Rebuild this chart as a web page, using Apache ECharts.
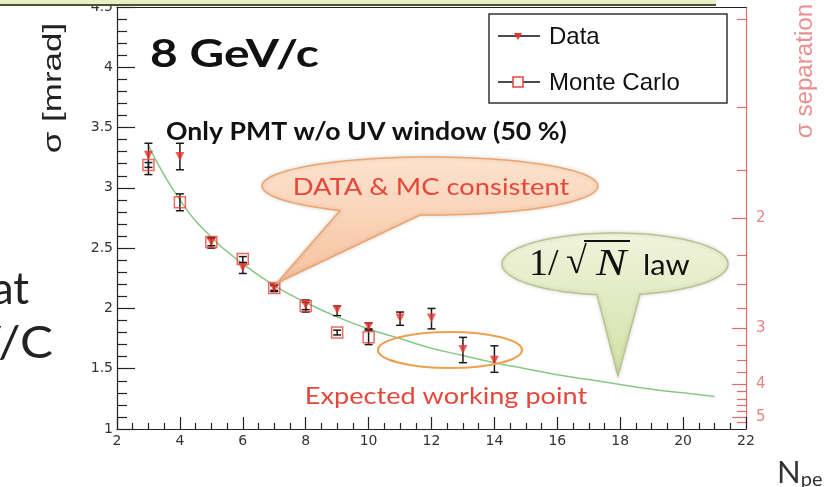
<!DOCTYPE html>
<html>
<head>
<meta charset="utf-8">
<script src="https://cdn.jsdelivr.net/npm/echarts@6/dist/echarts.min.js"></script>
<style>
html, body { margin: 0; padding: 0; background: #fff; }
#chart { width: 826px; height: 487px; }
</style>
</head>
<body>
<div id="chart"></div>
<script>
// measured points, 8 GeV/c, PMT w/o UV window
const dataN = [3, 4, 5, 6, 7, 8, 9, 10, 11, 12, 13, 14];
const dataSigma = [3.27, 3.26, 2.55, 2.34, 2.17, 2.03, 1.99, 1.85, 1.92, 1.92, 1.66, 1.57];
const dataLow = [3.11, 3.15, 2.50, 2.29, 2.14, 1.97, 1.94, 1.83, 1.86, 1.83, 1.55, 1.47];
const dataHigh = [3.37, 3.37, 2.59, 2.38, 2.20, 2.07, 2.02, 1.88, 1.97, 2.00, 1.76, 1.69];

// Monte Carlo
const mcN = [3, 4, 5, 6, 7, 8, 9, 10];
const mcSigma = [3.19, 2.88, 2.55, 2.41, 2.17, 2.02, 1.80, 1.76];
const mcLow = [3.17, 2.81, 2.52, 2.38, 2.15, 1.99, 1.78, 1.70];
const mcHigh = [3.21, 2.95, 2.58, 2.43, 2.19, 2.05, 1.82, 1.82];

// green 1/sqrt(N) curve
const lawN = [3, 4, 5, 6, 7, 8, 9, 10, 11, 12, 13, 14, 15, 16, 17, 18, 19, 20, 21];
const lawSigma = [3.35, 2.90, 2.59, 2.37, 2.19, 2.05, 1.93, 1.83, 1.75, 1.67, 1.61, 1.55, 1.50, 1.45, 1.41, 1.37, 1.33, 1.30, 1.27];

// right axis: sigma separation (sigma = sepScale / n)
const sepScale = 5.5;
const sepMajor = [2, 3, 4, 5];
const sepMinor = [1.25, 1.5, 1.75, 2.25, 2.5, 2.75, 3.25, 3.5, 3.75, 4.2, 4.4, 4.6, 4.8, 5.2];

const RED = '#e8352a';
const PINK = '#e58585';
const AXIS_FONT = 'DejaVu Sans';

function errorBar(params, api) {
  const x = api.value(0);
  const lo = api.coord([x, api.value(1)]);
  const hi = api.coord([x, api.value(2)]);
  const c = 4;
  const style = { stroke: '#1a1a1a', lineWidth: 1.5 };
  return {
    type: 'group',
    children: [
      { type: 'line', shape: { x1: lo[0], y1: lo[1], x2: hi[0], y2: hi[1] }, style },
      { type: 'line', shape: { x1: lo[0] - c, y1: lo[1], x2: lo[0] + c, y2: lo[1] }, style },
      { type: 'line', shape: { x1: hi[0] - c, y1: hi[1], x2: hi[0] + c, y2: hi[1] }, style }
    ]
  };
}

// speech bubble outline: ellipse with a tail leaving the lower edge between xb and xa
function bubble(cx, cy, rx, ry, xa, xb, tip) {
  const ta = Math.acos((xa - cx) / rx);
  const tb = Math.acos((xb - cx) / rx) - 2 * Math.PI;
  const pts = [];
  const steps = 90;
  for (let i = 0; i <= steps; i++) {
    const t = ta + (tb - ta) * i / steps;
    pts.push([cx + rx * Math.cos(t), cy + ry * Math.sin(t)]);
  }
  pts.push(tip);
  return pts;
}

const option = {
  animation: false,
  grid: { left: 117, right: 80, top: 5, bottom: 58 },
  xAxis: [
    {
      type: 'value', min: 2, max: 22, interval: 2,
      axisLine: { lineStyle: { color: '#222', width: 1.2 } },
      axisTick: { inside: true, length: 12, lineStyle: { color: '#222', width: 1.2 } },
      minorTick: { show: true, splitNumber: 4, length: 6, lineStyle: { color: '#222', width: 1.2 } },
      axisLabel: { color: '#333', fontSize: 14, margin: 5, fontFamily: AXIS_FONT },
      splitLine: { show: false }
    },
    {
      type: 'value', position: 'top', min: 2, max: 22,
      axisLine: { lineStyle: { color: '#222', width: 1.2 } },
      axisTick: { show: false }, axisLabel: { show: false }, splitLine: { show: false }
    }
  ],
  yAxis: [
    {
      type: 'value', min: 1, max: 4.5, interval: 0.5,
      axisLine: { show: true, lineStyle: { color: '#222', width: 1.2 } },
      axisTick: { inside: true, length: 18, lineStyle: { color: '#222', width: 1.2 } },
      minorTick: { show: true, splitNumber: 5, length: 10, lineStyle: { color: '#222', width: 1.2 } },
      axisLabel: { color: '#333', fontSize: 14, margin: 4, fontFamily: AXIS_FONT },
      splitLine: { show: false }
    },
    {
      type: 'value', position: 'right', min: 1, max: 4.5, interval: 0.5,
      axisLine: { show: true, lineStyle: { color: '#e06b6b', width: 1.2 } },
      axisTick: { inside: true, length: 14, customValues: sepMajor.map(n => sepScale / n), lineStyle: { color: '#e06b6b', width: 1.2 } },
      axisLabel: {
        customValues: sepMajor.map(n => sepScale / n),
        formatter: v => String(Math.round(sepScale / v)),
        color: PINK, fontSize: 15, margin: 10, fontFamily: AXIS_FONT
      },
      splitLine: { show: false }
    },
    {
      type: 'value', position: 'right', min: 1, max: 4.5, interval: 0.5,
      axisLine: { show: false },
      axisTick: { inside: true, length: 9, customValues: sepMinor.map(n => sepScale / n), lineStyle: { color: '#e06b6b', width: 1.2 } },
      axisLabel: { show: false },
      splitLine: { show: false }
    }
  ],
  series: [
    {
      name: '1/sqrt(N)', type: 'line', smooth: true, showSymbol: false, silent: true,
      data: lawN.map((n, i) => [n, lawSigma[i]]),
      lineStyle: { color: '#86c986', width: 1.5 }, z: 2
    },
    {
      name: 'Data err', type: 'custom', renderItem: errorBar, silent: true,
      data: dataN.map((n, i) => [n, dataLow[i], dataHigh[i]]),
      encode: { x: 0, y: [1, 2] }, z: 3
    },
    {
      name: 'MC err', type: 'custom', renderItem: errorBar, silent: true,
      data: mcN.map((n, i) => [n, mcLow[i], mcHigh[i]]),
      encode: { x: 0, y: [1, 2] }, z: 3
    },
    {
      name: 'Data', type: 'scatter', symbol: 'triangle', symbolRotate: 180, symbolSize: 9,
      data: dataN.map((n, i) => [n, dataSigma[i]]),
      itemStyle: { color: RED }, z: 4
    },
    {
      name: 'Monte Carlo', type: 'scatter', symbol: 'rect', symbolSize: 11,
      data: mcN.map((n, i) => [n, mcSigma[i]]),
      itemStyle: { color: 'rgba(0,0,0,0)', borderColor: '#e8453c', borderWidth: 1.5 }, z: 5
    }
  ],
  graphic: { elements: [
    // axis titles
    { type: 'text', x: 54, y: 88, rotation: Math.PI / 2, scaleX: 1.4, z: 50,
      style: { text: 'σ [mrad]', fontFamily: 'Liberation Sans', fontSize: 25, fill: '#222', align: 'center', verticalAlign: 'middle' } },
    { type: 'text', x: 806, y: 71, rotation: Math.PI / 2, scaleX: 1.05, z: 50,
      style: { text: 'σ separation', fontFamily: 'Liberation Sans', fontSize: 23, fill: '#e88f8f', align: 'center', verticalAlign: 'middle' } },

    // headline texts
    { type: 'text', x: 150, y: 55, scaleX: 1.26, z: 50,
      style: { text: '8 GeV/c', fontFamily: 'Lato', fontSize: 38, fontWeight: 'bold', fill: '#111', align: 'left', verticalAlign: 'middle' } },
    { type: 'text', x: 166, y: 132, scaleX: 1.11, z: 50,
      style: { text: 'Only PMT w/o UV window (50 %)', fontFamily: 'Lato', fontSize: 24, fontWeight: 'bold', fill: '#111', align: 'left', verticalAlign: 'middle' } },

    // orange bubble
    { type: 'polygon', z: 40,
      shape: { points: bubble(430, 186, 168, 29, 420, 340, [277, 283]) },
      style: {
        fill: { type: 'linear', x: 0, y: 0, x2: 0, y2: 1, colorStops: [{ offset: 0, color: '#fde3cf' }, { offset: 1, color: '#f6c29f' }] },
        stroke: '#eea46a', lineWidth: 1.5, shadowBlur: 4, shadowColor: 'rgba(0,0,0,0.15)'
      } },
    { type: 'text', x: 431, y: 187, scaleX: 1.14, z: 50,
      style: { text: 'DATA & MC consistent', fontFamily: 'Lato', fontSize: 24, fill: '#e5473b', align: 'center', verticalAlign: 'middle' } },

    // green bubble
    { type: 'polygon', z: 40,
      shape: { points: bubble(615, 264, 113, 31, 640, 597, [618, 376]) },
      style: {
        fill: { type: 'linear', x: 0, y: 0, x2: 0, y2: 1, colorStops: [{ offset: 0, color: '#f0f4dd' }, { offset: 1, color: '#d3e0a6' }] },
        stroke: '#b8c48e', lineWidth: 1.5, shadowBlur: 4, shadowColor: 'rgba(0,0,0,0.15)'
      } },
    { type: 'text', x: 529, y: 265, z: 50,
      style: { text: '1/', fontFamily: 'Liberation Serif', fontSize: 38, fill: '#111', align: 'left', verticalAlign: 'middle' } },
    { type: 'text', x: 566, y: 263, z: 50,
      style: { text: '√', fontFamily: 'Liberation Serif', fontSize: 38, fill: '#111', align: 'left', verticalAlign: 'middle' } },
    { type: 'text', x: 596, y: 265, scaleX: 1.2, z: 50,
      style: { text: 'N', fontFamily: 'Liberation Serif', fontStyle: 'italic', fontSize: 38, fill: '#111', align: 'left', verticalAlign: 'middle' } },
    { type: 'line', z: 50, shape: { x1: 584, y1: 241, x2: 630, y2: 241 }, style: { stroke: '#111', lineWidth: 1.8 } },
    { type: 'text', x: 643, y: 266, scaleX: 1.1, z: 50,
      style: { text: 'law', fontFamily: 'Lato', fontSize: 28, fill: '#111', align: 'left', verticalAlign: 'middle' } },

    // working point
    { type: 'ellipse', z: 45, shape: { cx: 450, cy: 350, rx: 72, ry: 18 },
      style: { fill: 'none', stroke: '#eea050', lineWidth: 2.2 } },
    { type: 'text', x: 446, y: 396, scaleX: 1.13, z: 50,
      style: { text: 'Expected working point', fontFamily: 'Lato', fontSize: 24, fill: '#e5473b', align: 'center', verticalAlign: 'middle' } },

    // legend box
    { type: 'rect', z: 60, shape: { x: 489, y: 14, width: 238, height: 89 },
      style: { fill: '#fff', stroke: '#333', lineWidth: 1.5 } },
    { type: 'line', z: 61, shape: { x1: 498, y1: 36, x2: 540, y2: 36 }, style: { stroke: '#111', lineWidth: 1.5 } },
    { type: 'polygon', z: 62, shape: { points: [[514, 33], [522, 33], [518, 40]] }, style: { fill: RED } },
    { type: 'text', x: 549, y: 37, z: 62,
      style: { text: 'Data', fontFamily: 'Liberation Sans', fontSize: 24, fill: '#111', align: 'left', verticalAlign: 'middle' } },
    { type: 'line', z: 61, shape: { x1: 498, y1: 82, x2: 540, y2: 82 }, style: { stroke: '#111', lineWidth: 1.5 } },
    { type: 'rect', z: 62, shape: { x: 513, y: 77, width: 10, height: 10 }, style: { fill: '#fff', stroke: '#e8453c', lineWidth: 1.5 } },
    { type: 'text', x: 549, y: 83, z: 62,
      style: { text: 'Monte Carlo', fontFamily: 'Liberation Sans', fontSize: 24, fill: '#111', align: 'left', verticalAlign: 'middle' } },

    // slide pieces around the plot
    { type: 'rect', z: 90, shape: { x: 0, y: 0, width: 716, height: 5 }, style: { fill: '#e8efc6' } },
    { type: 'line', z: 91, shape: { x1: 0, y1: 5, x2: 716, y2: 5 }, style: { stroke: '#4b5236', lineWidth: 2 } },
    { type: 'text', x: 29, y: 290, z: 50,
      style: { text: 'at', fontFamily: 'Lato', fontSize: 44, fill: '#222', align: 'right', verticalAlign: 'middle' } },
    { type: 'text', x: 53, y: 344, scaleX: 1.12, z: 50,
      style: { text: 'GeV/C', fontFamily: 'Lato', fontSize: 44, fill: '#222', align: 'right', verticalAlign: 'middle' } },
    { type: 'text', x: 777, y: 473, z: 50,
      style: {
        text: '{n|N}{s|pe}', fontFamily: 'Lato', fill: '#333', align: 'left', verticalAlign: 'middle',
        rich: { n: { fontSize: 31, fontFamily: 'Lato', fill: '#333' }, s: { fontSize: 20, fontFamily: 'Lato', fill: '#333', padding: [14, 0, 0, 0] } }
      } }
  ] }
};

const chart = echarts.init(document.getElementById('chart'));
chart.setOption(option);
</script>
</body>
</html>
